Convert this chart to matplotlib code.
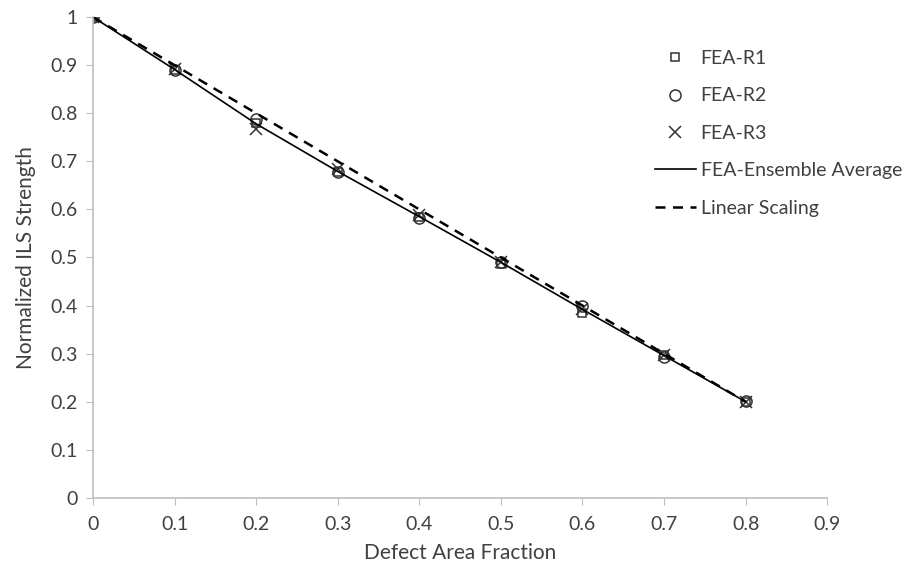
import numpy as np
import matplotlib.pyplot as plt

plt.rcParams['font.family'] = ['Lato', 'DejaVu Sans']

frac = [0.0, 0.1, 0.2, 0.3, 0.4, 0.5, 0.6, 0.7, 0.8]
r1 = [1.0, 0.890, 0.780, 0.678, 0.585, 0.487, 0.385, 0.297, 0.200]
r2 = [1.0, 0.890, 0.788, 0.677, 0.582, 0.491, 0.399, 0.294, 0.201]
r3 = [1.0, 0.892, 0.768, 0.683, 0.589, 0.491, 0.392, 0.297, 0.199]
ensemble = [1.0, 0.891, 0.778, 0.679, 0.585, 0.490, 0.392, 0.296, 0.200]
linear = [1.0, 0.9, 0.8, 0.7, 0.6, 0.5, 0.4, 0.3, 0.2]

xticks = [0, 0.1, 0.2, 0.3, 0.4, 0.5, 0.6, 0.7, 0.8, 0.9]
yticks = [0, 0.1, 0.2, 0.3, 0.4, 0.5, 0.6, 0.7, 0.8, 0.9, 1]

fig = plt.figure(figsize=(9.16, 5.69), dpi=100)
ax = fig.add_axes([0.1015, 0.125, 0.8015, 0.845])

ink = '#333333'
ax.plot(frac, r1, ls='none', marker='s', ms=6, mfc='none', mec=ink, mew=1.1, label='FEA-R1')
ax.plot(frac, r2, ls='none', marker='o', ms=8, mfc='none', mec=ink, mew=1.1, label='FEA-R2')
ax.plot(frac, r3, ls='none', marker='x', ms=8, mec=ink, mew=1.1, label='FEA-R3')
ax.plot(frac, ensemble, color='black', lw=1.2, label='FEA-Ensemble Average')
ax.plot(frac, linear, color='black', lw=1.8, ls=(0, (4, 3)), label='Linear Scaling')

ax.set_xlim(0, 0.9)
ax.set_ylim(0, 1)
ax.set_xticks(xticks)
ax.set_yticks(yticks)
ax.set_xticklabels([f'{t:g}' for t in xticks])
ax.set_yticklabels([f'{t:g}' for t in yticks])
ax.tick_params(colors='#bfbfbf', labelcolor='#404040', labelsize=14, length=5)
ax.tick_params(axis='x', pad=8)
ax.tick_params(axis='y', pad=6)

for side in ['top', 'right']:
    ax.spines[side].set_visible(False)
for side in ['left', 'bottom']:
    ax.spines[side].set_color('#bfbfbf')
    ax.spines[side].set_linewidth(1.2)

ax.set_xlabel('Defect Area Fraction', fontsize=15, color='#404040', labelpad=7)
ax.set_ylabel('Normalized ILS Strength', fontsize=15, color='#404040', labelpad=10)

fig.legend(*ax.get_legend_handles_labels(), loc='upper left',
           bbox_to_anchor=(655 / 916, 1 - 50 / 569), frameon=False, fontsize=14,
           borderpad=0, borderaxespad=0, handlelength=2.1, labelspacing=1.05,
           handletextpad=0.25, labelcolor='#404040')

fig.savefig('out.png', dpi=100)
